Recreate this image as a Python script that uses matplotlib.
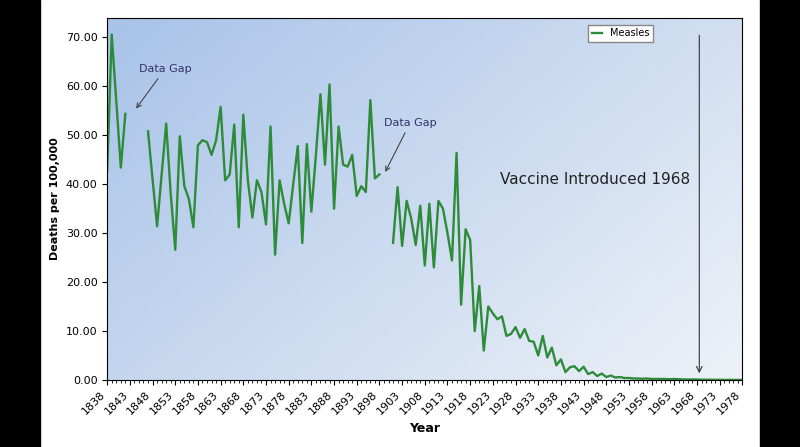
import matplotlib.pyplot as plt
import matplotlib.patches as mpatches
import numpy as np

# segment 1
years1 = [1838, 1839, 1840, 1841, 1842]
rate1 = [42.8, 70.6, 57.0, 43.4, 54.4]

# segment 2
years2 = list(range(1847, 1899))
rate2 = [50.8, 41.0, 31.4, 42.0, 52.4, 38.0, 26.6, 49.8, 39.6, 37.0,
         31.2, 48.0, 49.0, 48.6, 46.0, 49.0, 55.8, 40.8, 42.0, 52.2,
         31.2, 54.2, 40.8, 33.2, 40.8, 38.4, 31.8, 51.8, 25.6, 40.8,
         36.0, 32.0, 40.0, 47.8, 28.0, 48.2, 34.4, 46.0, 58.4, 44.0,
         60.4, 35.0, 51.8, 44.0, 43.6, 46.0, 37.6, 39.6, 38.4, 57.2,
         41.2, 42.0]

# segment 3
years3 = list(range(1901, 1979))
rate3 = [28.0, 39.4, 27.4, 36.6, 33.0, 27.6, 35.6, 23.4, 36.0, 23.0,
         36.6, 35.0, 30.0, 24.4, 46.4, 15.4, 30.8, 28.6, 10.0, 19.2,
         6.0, 15.0, 13.6, 12.4, 13.0, 9.0, 9.4, 10.8, 8.6, 10.4,
         8.0, 7.8, 5.0, 9.0, 4.6, 6.6, 3.0, 4.2, 1.6, 2.6,
         2.8, 1.8, 2.7, 1.2, 1.6, 0.8, 1.3, 0.6, 0.9, 0.5,
         0.6, 0.4, 0.4, 0.3, 0.3, 0.25, 0.3, 0.2, 0.2, 0.2,
         0.2, 0.15, 0.2, 0.15, 0.1, 0.1, 0.1, 0.1, 0.05, 0.05,
         0.05, 0.03, 0.03, 0.02, 0.02, 0.01, 0.01, 0.01]

tick_years = list(range(1838, 1979, 5))

fig = plt.figure(figsize=(8, 4.47), dpi=100)
fig.patches.append(mpatches.Rectangle((0, 0), 0.05, 1, transform=fig.transFigure, color='black', zorder=0))
fig.patches.append(mpatches.Rectangle((0.95, 0), 0.05, 1, transform=fig.transFigure, color='black', zorder=0))
ax = fig.add_axes([0.134, 0.15, 0.794, 0.81])

# gradient background
grad = np.linspace(0, 1, 256)[None, :] * 0.6 + np.linspace(0, 1, 64)[:, None] * 0.4
ax.imshow(grad, extent=[1838, 1978, 0, 74], aspect='auto', cmap=plt.matplotlib.colors.LinearSegmentedColormap.from_list('bg', ['#a8c3e8', '#eef2f8']), origin='upper', zorder=0)

green = '#2e8b3a'
ax.plot(years1, rate1, color=green, lw=1.7, label='Measles')
ax.plot(years2, rate2, color=green, lw=1.7)
ax.plot(years3, rate3, color=green, lw=1.7)

ax.set_xlim(1838, 1978)
ax.set_ylim(0, 74)
ax.set_yticks(range(0, 71, 10))
ax.set_yticklabels([f"{v:.2f}" for v in range(0, 71, 10)], fontsize=8)
ax.set_xticks(tick_years)
ax.set_xticklabels([str(y) for y in tick_years], rotation=45, ha='right', fontsize=8)
ax.set_xticks(range(1838, 1979), minor=True)
ax.set_xlabel("Year", fontsize=9, fontweight='bold')
ax.set_ylabel("Deaths per 100,000", fontsize=8, fontweight='bold')

ax.annotate("Data Gap", xy=(1844, 55), xytext=(1845, 63), fontsize=8, color='#333366',
            arrowprops=dict(arrowstyle='->', color='#444444', lw=0.8))
ax.annotate("Data Gap", xy=(1899, 42), xytext=(1899, 52), fontsize=8, color='#333366',
            arrowprops=dict(arrowstyle='->', color='#444444', lw=0.8))
ax.text(1924.5, 40, "Vaccine Introduced 1968", fontsize=11, color='#222222')
ax.annotate("", xy=(1968.5, 0.8), xytext=(1968.5, 71),
            arrowprops=dict(arrowstyle='->', color='#333333', lw=0.8))

ax.legend(loc='upper left', bbox_to_anchor=(0.75, 0.995), fontsize=7, handlelength=1,
          fancybox=False, edgecolor='#888888', framealpha=1)

fig.savefig("out.png")
